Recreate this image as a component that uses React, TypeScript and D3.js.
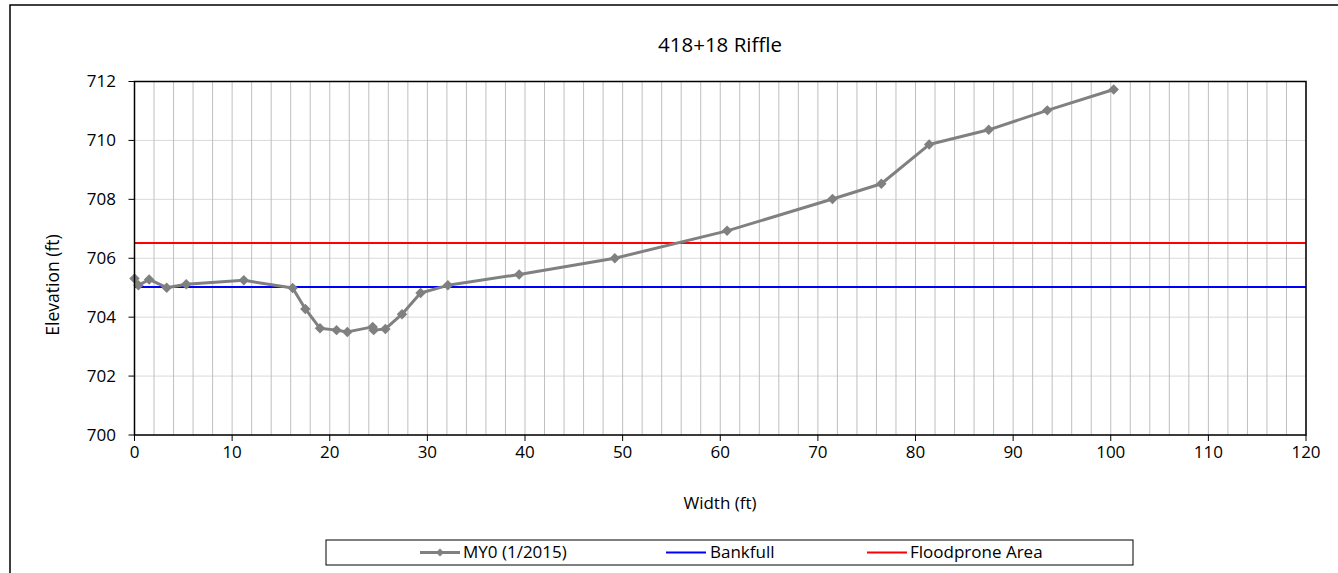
import React from "react";
import * as d3 from "d3";

const widthsFt = [0, 0.4, 1.5, 3.3, 5.3, 11.2, 16.2, 17.5, 19.0, 20.7, 21.8, 24.4, 24.5, 25.7, 27.4, 29.3, 32.1, 39.4, 49.2, 60.7, 71.5, 76.5, 81.4, 87.5, 93.5, 100.3];
const elevationsFt = [705.31, 705.08, 705.28, 705.0, 705.12, 705.25, 704.99, 704.28, 703.62, 703.56, 703.5, 703.67, 703.56, 703.6, 704.1, 704.82, 705.08, 705.45, 706.0, 706.93, 708.01, 708.53, 709.86, 710.36, 711.02, 711.73];
const bankfullElev = 705.02;
const floodproneElev = 706.52;
const xTicks = [0, 10, 20, 30, 40, 50, 60, 70, 80, 90, 100, 110, 120];
const yTicks = [700, 702, 704, 706, 708, 710, 712];
const xGrid = d3.range(0, 121, 2);
const legendLabels = ["MY0 (1/2015)", "Bankfull", "Floodprone Area"];
const titleText = "418+18 Riffle";

const W = 1338;
const H = 573;
const plot = { left: 134.5, right: 1306, top: 81.5, bottom: 435 };
const FONT = "'Open Sans', sans-serif";

export default function App() {
  const x = d3.scaleLinear().domain([0, 120]).range([plot.left, plot.right]);
  const y = d3.scaleLinear().domain([700, 712]).range([plot.bottom, plot.top]);
  const pts = widthsFt.map((w, i) => [w, elevationsFt[i]] as [number, number]);
  const line = d3.line<[number, number]>().x((d) => x(d[0])).y((d) => y(d[1]));
  const diamond = d3.symbol().type(d3.symbolDiamond2).size(70)();
  const diamondSmall = d3.symbol().type(d3.symbolDiamond2).size(40)();

  const legendY = 552.5;
  return (
    <svg width={W} height={H} style={{ position: "absolute", left: 0, top: 0, background: "#fff" }}>
      <rect x={10} y={5} width={W} height={H + 20} fill="#fff" stroke="#000" strokeWidth={1.5} />
      <text x={720} y={52} textAnchor="middle" fontFamily={FONT} fontSize={20.5} fill="#000">
        {titleText}
      </text>
      {/* horizontal grid */}
      {yTicks.map((t) => (
        <line key={"hy" + t} x1={plot.left} x2={plot.right} y1={y(t)} y2={y(t)} stroke="#d9d9d9" strokeWidth={1} />
      ))}
      {/* vertical grid */}
      {xGrid.map((t) => (
        <line key={"gx" + t} x1={x(t)} x2={x(t)} y1={plot.top} y2={plot.bottom} stroke="#bfbfbf" strokeWidth={1} />
      ))}
      {/* reference lines */}
      <line x1={plot.left} x2={plot.right} y1={y(floodproneElev)} y2={y(floodproneElev)} stroke="#ff0000" strokeWidth={2} />
      <line x1={plot.left} x2={plot.right} y1={y(bankfullElev)} y2={y(bankfullElev)} stroke="#0000ff" strokeWidth={2} />
      {/* series */}
      <path d={line(pts) || ""} fill="none" stroke="#808080" strokeWidth={3} strokeLinejoin="round" />
      {pts.map((p, i) => (
        <path key={"m" + i} d={diamond || ""} transform={`translate(${x(p[0])},${y(p[1])})`} fill="#808080" />
      ))}
      {/* plot frame */}
      <rect x={plot.left} y={plot.top} width={plot.right - plot.left} height={plot.bottom - plot.top} fill="none" stroke="#000" strokeWidth={1.5} />
      {/* y axis ticks */}
      {yTicks.map((t) => (
        <g key={"yt" + t}>
          <line x1={plot.left - 6} x2={plot.left} y1={y(t)} y2={y(t)} stroke="#000" strokeWidth={1} />
          <text x={116} y={y(t)} dy="0.35em" textAnchor="end" fontFamily={FONT} fontSize={17} fill="#000">
            {t}
          </text>
        </g>
      ))}
      {/* x axis ticks */}
      {xTicks.map((t) => (
        <g key={"xt" + t}>
          <line x1={x(t)} x2={x(t)} y1={plot.bottom} y2={plot.bottom + 6} stroke="#000" strokeWidth={1} />
          <text x={x(t)} y={458} textAnchor="middle" fontFamily={FONT} fontSize={17} fill="#000">
            {t}
          </text>
        </g>
      ))}
      <text x={720} y={509} textAnchor="middle" fontFamily={FONT} fontSize={17} fill="#000">
        Width (ft)
      </text>
      <text transform={`translate(59,285) rotate(-90)`} textAnchor="middle" fontFamily={FONT} fontSize={17.5} fill="#000">
        Elevation (ft)
      </text>
      {/* legend */}
      <rect x={326} y={540} width={807} height={25} fill="#fff" stroke="#000" strokeWidth={1} />
      <line x1={420} x2={460} y1={legendY} y2={legendY} stroke="#808080" strokeWidth={3} />
      <path d={diamondSmall || ""} transform={`translate(440,${legendY})`} fill="#808080" />
      <text x={463} y={legendY} dy="0.35em" fontFamily={FONT} fontSize={17} fill="#000">{legendLabels[0]}</text>
      <line x1={666} x2={706} y1={legendY} y2={legendY} stroke="#0000ff" strokeWidth={2} />
      <text x={710} y={legendY} dy="0.35em" fontFamily={FONT} fontSize={17} fill="#000">{legendLabels[1]}</text>
      <line x1={867} x2={907} y1={legendY} y2={legendY} stroke="#ff0000" strokeWidth={2} />
      <text x={910} y={legendY} dy="0.35em" fontFamily={FONT} fontSize={17} fill="#000">{legendLabels[2]}</text>
    </svg>
  );
}
